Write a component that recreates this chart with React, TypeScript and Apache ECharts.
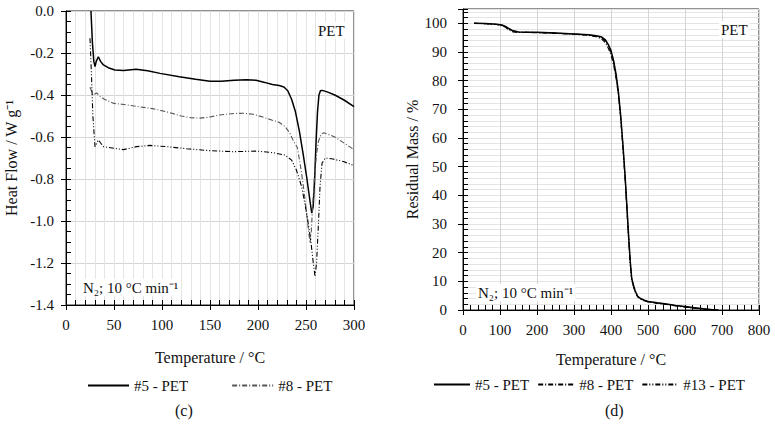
import React, { useEffect, useRef } from "react";
import * as echarts from "echarts";

// ---------- DSC (c) ----------
const dscT5 = [26, 27.5, 29, 30.2, 31.5, 33.7, 36, 39, 44, 51, 60, 73, 85, 98, 118, 135, 150, 162, 175, 188, 198, 207, 215, 222, 227, 231, 235, 239, 243, 247, 251, 254, 256, 257.5, 259, 260.5, 262, 263.5, 265, 267, 272, 280, 290, 300];
const dscHF5 = [0.0, -0.15, -0.24, -0.265, -0.24, -0.218, -0.24, -0.257, -0.27, -0.281, -0.283, -0.277, -0.285, -0.297, -0.313, -0.325, -0.334, -0.335, -0.33, -0.327, -0.33, -0.34, -0.35, -0.355, -0.362, -0.38, -0.42, -0.48, -0.57, -0.68, -0.8, -0.9, -0.962, -0.93, -0.8, -0.62, -0.48, -0.4, -0.38, -0.378, -0.385, -0.4, -0.425, -0.455];

const dscT8 = [25, 26.5, 28, 30, 32, 35, 40, 50, 60, 75, 90, 105, 120, 130, 140, 150, 160, 175, 185, 195, 205, 215, 222, 228, 233, 237, 241, 245, 248, 251, 253, 254.3, 255.5, 257, 259, 261, 263, 265, 268, 270, 280, 290, 300];
const dscHF8 = [-0.363, -0.38, -0.4, -0.395, -0.39, -0.405, -0.42, -0.44, -0.445, -0.455, -0.465, -0.48, -0.5, -0.508, -0.51, -0.505, -0.495, -0.488, -0.487, -0.492, -0.505, -0.52, -0.53, -0.55, -0.58, -0.62, -0.65, -0.76, -0.86, -0.98, -1.06, -1.105, -1.05, -0.92, -0.78, -0.68, -0.62, -0.595, -0.58, -0.582, -0.6, -0.63, -0.66];

const dscT13 = [25, 26.5, 28, 30.2, 33.7, 39, 50, 60, 73.6, 87.5, 105, 126, 150, 174, 199, 216, 228, 235, 240, 245.5, 250.7, 254.9, 257.6, 259.4, 261, 262.8, 264.6, 266.7, 270, 278, 289, 300];
const dscHF13 = [-0.13, -0.3, -0.5, -0.646, -0.614, -0.646, -0.654, -0.66, -0.646, -0.64, -0.646, -0.656, -0.665, -0.67, -0.667, -0.675, -0.686, -0.71, -0.757, -0.837, -0.963, -1.09, -1.2, -1.265, -1.2, -1.03, -0.837, -0.725, -0.7, -0.705, -0.717, -0.736];

// ---------- TGA (d) ----------
const tgaT = [30, 60, 90, 105, 115, 125, 135, 150, 175, 200, 250, 300, 340, 360, 375, 385, 393, 400, 407, 414, 420, 426, 432, 438, 443, 448, 452, 456, 460, 465, 472, 480, 490, 500, 525, 550, 575, 600, 625, 650, 675, 690];
const tgaM5 = [100, 99.9, 99.7, 99.4, 98.9, 98.1, 97.4, 97.0, 96.9, 96.9, 96.6, 96.3, 96.0, 95.7, 95.2, 94.2, 92.5, 90.5, 87, 82, 76, 68, 58, 47, 36, 25, 17, 11, 9.0, 6.8, 4.8, 4.0, 3.4, 3.0, 2.5, 2.1, 1.6, 1.2, 0.8, 0.4, 0.1, 0];
const tgaM8 = [100, 99.9, 99.6, 99.2, 98.6, 97.6, 97.0, 96.8, 96.8, 96.7, 96.5, 96.2, 95.8, 95.3, 94.5, 93.2, 91.2, 89.0, 85.5, 80.5, 75, 67, 57, 46, 35, 24, 16, 10.5, 8.5, 6.4, 4.6, 3.8, 3.2, 2.8, 2.3, 1.9, 1.4, 1.0, 0.6, 0.3, 0.05, 0];
const tgaM13 = [100, 99.9, 99.7, 99.3, 98.8, 98.0, 97.3, 97.0, 96.9, 96.8, 96.6, 96.3, 95.9, 95.5, 94.9, 93.8, 92.0, 90.0, 86.5, 81.5, 75.5, 67.5, 57.5, 46.5, 35.5, 24.5, 16.5, 10.8, 8.8, 6.6, 4.7, 3.9, 3.3, 2.9, 2.4, 2.0, 1.5, 1.1, 0.7, 0.35, 0.08, 0];

const seriesNames = ["#5 - PET", "#8 - PET", "#13 - PET"];
const leftLegendNames = ["#5 - PET", "#8 - PET"];

const zip = (xs: number[], ys: number[]) => xs.map((x, i) => [x, ys[i]]);

const FONT = "Liberation Serif";
const TXT = { fontFamily: FONT, fontSize: 15, color: "#111" };
const GRID_MAJOR = "#d4d4d4";
const GRID_MINOR = "#e4e4e4";

const STYLE5 = { color: "#000", width: 1.5, type: "solid" as any };
const STYLE8 = { color: "#333", width: 1.1, type: [5, 2, 1, 2] as any };
const STYLE13 = { color: "#000", width: 1.1, type: [5, 2, 1, 2, 1, 2] as any };

export default function App() {
  const ref = useRef<HTMLDivElement>(null);
  useEffect(() => {
    if (!ref.current) return;
    const chart = echarts.init(ref.current, undefined, { renderer: "svg" });

    const primaryX = (gridIndex: number, min: number, max: number, interval: number, nameGap: number) => ({
      type: "value", gridIndex, min, max, interval, position: "bottom",
      name: "Temperature / °C", nameLocation: "middle", nameGap,
      nameTextStyle: { ...TXT, fontSize: 16 },
      axisLine: { show: true, onZero: false, lineStyle: { color: "#000", width: 1 } },
      axisTick: { show: true, inside: false, length: 5, lineStyle: { color: "#000" } },
      axisLabel: { ...TXT, margin: 12 },
      splitLine: { show: true, lineStyle: { color: GRID_MAJOR, width: 1 } },
    });
    const minorX = (gridIndex: number, min: number, max: number, interval: number, grid: boolean) => ({
      type: "value", gridIndex, min, max, interval, position: "bottom",
      axisLine: { show: false, onZero: false },
      axisTick: { show: true, inside: true, length: 5, lineStyle: { color: "#000" } },
      axisLabel: { show: false },
      splitLine: { show: grid, lineStyle: { color: GRID_MINOR, width: 1 } },
    });
    const primaryY = (gridIndex: number, min: number, max: number, interval: number, name: string, nameGap: number, margin: number, fmt: (v: number) => string) => ({
      type: "value", gridIndex, min, max, interval, position: "left",
      name, nameLocation: "middle", nameGap,
      nameTextStyle: { ...TXT, fontSize: 16 },
      axisLine: { show: true, onZero: false, lineStyle: { color: "#000", width: 1 } },
      axisTick: { show: true, inside: false, length: 5, lineStyle: { color: "#000" } },
      axisLabel: { ...TXT, margin, formatter: fmt },
      splitLine: { show: true, lineStyle: { color: GRID_MAJOR, width: 1 } },
    });
    const minorY = (gridIndex: number, min: number, max: number, interval: number, grid: boolean) => ({
      type: "value", gridIndex, min, max, interval, position: "left",
      axisLine: { show: false, onZero: false },
      axisTick: { show: true, inside: true, length: 5, lineStyle: { color: "#000" } },
      axisLabel: { show: false },
      splitLine: { show: grid, lineStyle: { color: GRID_MINOR, width: 1 } },
    });

    const line = (name: string, xi: number, data: number[][], lineStyle: any) => ({
      type: "line", name, xAxisIndex: xi, yAxisIndex: xi, data,
      symbol: "none", showSymbol: false, smooth: false, lineStyle,
      itemStyle: { color: lineStyle.color }, color: lineStyle.color, z: 5,
    });

    const labelStyle = (text: string, size = 15) => ({
      text, font: `${size}px "${FONT}"`, fill: "#111",
      backgroundColor: "#fff", padding: [1, 2, 1, 2],
    });

    chart.setOption({
      animation: false,
      backgroundColor: "#fff",
      grid: [
        { left: 66, top: 11, width: 288, height: 294, show: true, borderColor: "#222", borderWidth: 1, backgroundColor: "transparent", containLabel: false },
        { left: 463, top: 9, width: 296, height: 301, show: true, borderColor: "#222", borderWidth: 1, backgroundColor: "transparent", containLabel: false },
      ],
      xAxis: [
        primaryX(0, 0, 300, 50, 44),
        minorX(0, 0, 300, 10, true),
        { ...primaryX(1, 0, 800, 100, 41) },
        minorX(1, 0, 800, 20, false),
      ],
      yAxis: [
        primaryY(0, -1.4, 0, 0.2, "Heat Flow / W g⁻¹", 47, 12, (v: number) => v.toFixed(1)),
        minorY(0, -1.4, 0, 0.05, false),
        primaryY(1, 0, 105, 10, "Residual Mass / %", 23, 16, (v: number) => (v > 100 ? "" : String(Math.round(v)))),
        minorY(1, 0, 105, 2, true),
      ],
      legend: [
        {
          left: 82, top: 373, itemWidth: 41, itemHeight: 10, itemGap: 43,
          data: leftLegendNames, textStyle: { ...TXT }, selectedMode: false,
          itemStyle: { opacity: 0 },
        },
        {
          left: 428, top: 372, itemWidth: 36, itemHeight: 10, itemGap: 8,
          data: [
            { name: seriesNames[0] },
            { name: seriesNames[1], lineStyle: { color: "#000", type: [5, 2, 1, 2] } },
            { name: seriesNames[2] },
          ],
          textStyle: { ...TXT }, selectedMode: false,
          itemStyle: { opacity: 0 },
        },
      ],
      graphic: [
        { type: "text", left: 316, top: 22, z: 10, style: labelStyle("PET") },
        { type: "text", left: 81, top: 279, z: 10, style: labelStyle("N₂; 10 °C min⁻¹") },
        { type: "text", left: 719, top: 21, z: 10, style: labelStyle("PET") },
        { type: "text", left: 476, top: 284, z: 10, style: labelStyle("N₂; 10 °C min⁻¹") },
        { type: "text", left: 175, top: 402, style: { text: "(c)", font: `16px "${FONT}"`, fill: "#111" } },
        { type: "text", left: 605, top: 402, style: { text: "(d)", font: `16px "${FONT}"`, fill: "#111" } },
      ],
      series: [
        line(seriesNames[0], 0, zip(dscT5, dscHF5), STYLE5),
        line(seriesNames[1], 0, zip(dscT8, dscHF8), { ...STYLE8, color: "#555" }),
        line(seriesNames[2], 0, zip(dscT13, dscHF13), STYLE13),
        line(seriesNames[0], 2, zip(tgaT, tgaM5), STYLE5),
        line(seriesNames[1], 2, zip(tgaT, tgaM8), { ...STYLE8, color: "#000" }),
        line(seriesNames[2], 2, zip(tgaT, tgaM13), STYLE13),
      ],
    });
    return () => chart.dispose();
  }, []);

  return (
    <div
      ref={ref}
      style={{ position: "fixed", left: 0, top: 0, width: 775, height: 424, background: "#fff" }}
    />
  );
}
